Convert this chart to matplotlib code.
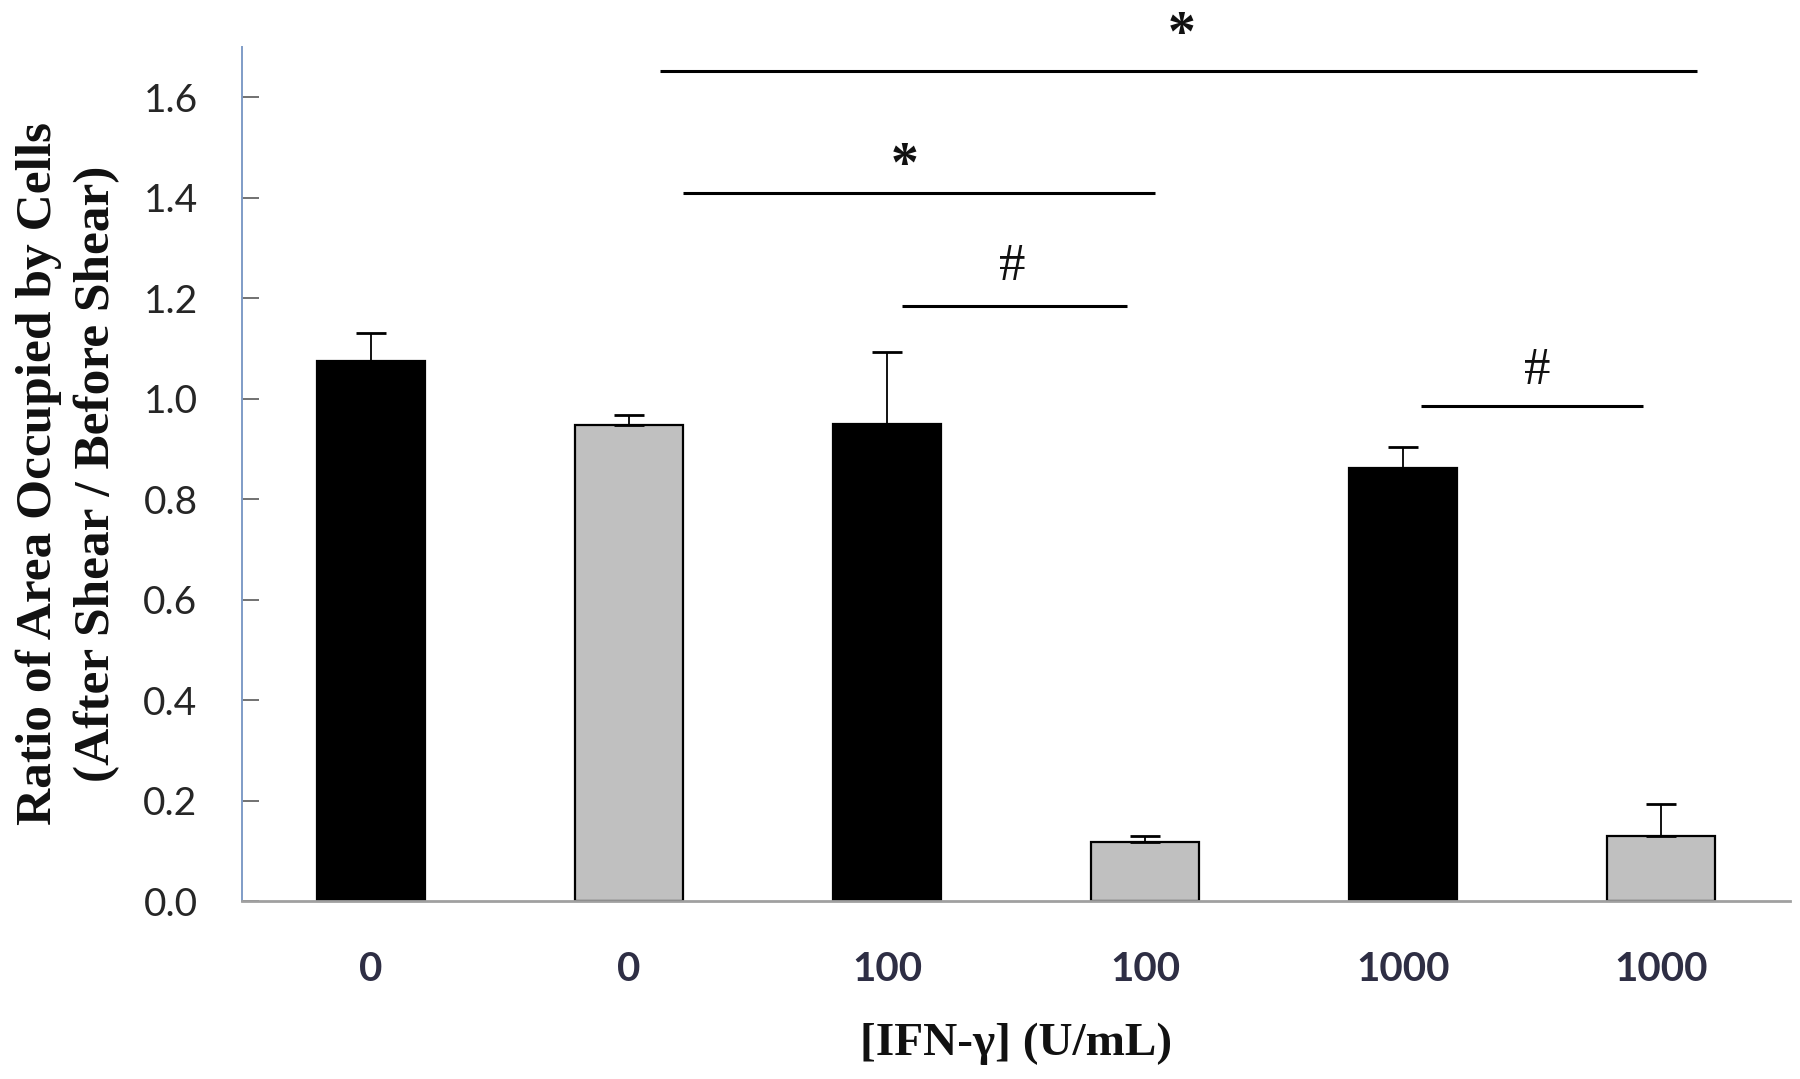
import matplotlib
matplotlib.use("Agg")
import matplotlib.pyplot as plt
import numpy as np

# ---- data ----
categories = ["0", "0", "100", "100", "1000", "1000"]
values = [1.075, 0.948, 0.949, 0.118, 0.862, 0.130]
errors = [0.055, 0.019, 0.143, 0.011, 0.042, 0.063]
bar_colors = ["#000000", "#c0c0c0", "#000000", "#c0c0c0", "#000000", "#c0c0c0"]
yticks = [0.0, 0.2, 0.4, 0.6, 0.8, 1.0, 1.2, 1.4, 1.6]

# significance brackets: (x_start, x_end, y, label, label_x, label_y)
sig_x0 = [1.12, 1.21, 2.06, 4.07]
sig_x1 = [5.14, 3.04, 2.93, 4.93]
sig_y = [1.653, 1.410, 1.185, 0.986]
sig_label = ["*", "*", "#", "#"]
sig_lx = [3.14, 2.07, 2.485, 4.52]
sig_ly = [1.722, 1.462, 1.263, 1.056]

fig = plt.figure(figsize=(18, 10.79), dpi=100)
ax = fig.add_axes([242/1800, 1 - 901/1079, (1790-242)/1800, (901-47)/1079])

x = np.arange(len(categories))
ax.bar(x, values, width=0.416, color=bar_colors, edgecolor="black",
       linewidth=1.6, zorder=2)
yerr = np.array([np.zeros(len(errors)), errors])
ax.errorbar(x, values, yerr=yerr, fmt="none", ecolor="black",
            elinewidth=1.3, capsize=10.5, capthick=2.0, zorder=3)

for x0, x1, y, lab, lx, ly in zip(sig_x0, sig_x1, sig_y, sig_label, sig_lx, sig_ly):
    ax.plot([x0, x1], [y, y], color="black", lw=2.2, solid_capstyle="butt",
            zorder=4, clip_on=False)
    ax.text(lx, ly, lab, ha="center", va="center",
            fontsize=40 if lab == "*" else 38,
            family="Liberation Serif", fontweight="bold" if lab == "*" else "normal",
            color="#111111")

ax.set_xlim(-0.5, 5.5)
ax.set_ylim(0, 1.7)
ax.set_yticks(yticks)
ax.set_yticklabels([f"{v:.1f}" for v in yticks], family="Lato",
                   fontsize=28, color="#262626")
ax.set_xticks(x)
ax.set_xticklabels(categories, family="Lato", fontweight="bold",
                   fontsize=29, color="#2e2e44")
ax.tick_params(axis="y", direction="in", length=12, width=1.2,
               color="#595959", pad=32)
ax.tick_params(axis="x", length=0, pad=36)

for s in ["top", "right"]:
    ax.spines[s].set_visible(False)
ax.spines["left"].set_color("#7f9cc7")
ax.spines["left"].set_linewidth(1.4)
ax.spines["bottom"].set_color("#a0a0a0")
ax.spines["bottom"].set_linewidth(2.0)

fig.text(68/1800, 1 - 474/1079,
         "Ratio of Area Occupied by Cells\n(After Shear / Before Shear)",
         rotation=90, ha="center", va="center", fontsize=37,
         family="Liberation Serif", fontweight="bold", linespacing=1.35,
         color="#111111")
fig.text(1016/1800, 1 - 1044/1079, "[IFN-γ] (U/mL)", ha="center",
         va="center", fontsize=34, family="Liberation Serif",
         fontweight="bold", color="#111111")

fig.savefig("out.png", dpi=100, facecolor="white")
